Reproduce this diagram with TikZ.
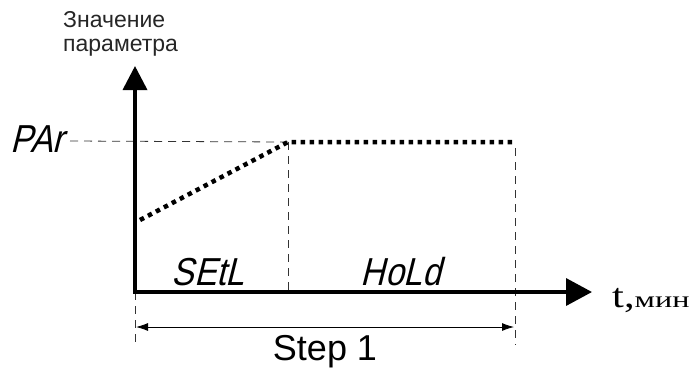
\documentclass[tikz,border=0pt]{standalone}
\usepackage{fontspec}
\setmainfont{Liberation Sans}
\newfontfamily\segfont[FakeSlant=0.25,FakeStretch=0.86]{Liberation Sans}
\newfontfamily\serfont[FakeStretch=1.25]{Liberation Serif}
\newfontfamily\serwide[FakeStretch=1.4]{Liberation Serif}
\usetikzlibrary{arrows.meta}
\begin{document}
\begin{tikzpicture}[x=1pt,y=-1pt,
  axis/.style={line width=3.6pt},
  guide/.style={line width=0.8pt, dash pattern=on 8pt off 6pt, black!80},
  curve/.style={line width=4.5pt, dash pattern=on 4.5pt off 4.5pt},
  seg/.style={font=\segfont\fontsize{39}{39}\selectfont, inner sep=0pt, anchor=base},
  lbl/.style={font=\fontsize{23}{26}\selectfont, inner sep=0pt, anchor=base west, text=black!85},
  dim/.style={line width=0.8pt, {Latex[length=12pt,width=8pt]}-{Latex[length=12pt,width=8pt]}}
]
\useasboundingbox (0,0) rectangle (692,373);
% coordinates
\coordinate (O) at (135,292);
\coordinate (ytop) at (135,66);
\coordinate (xend) at (592,292);
\coordinate (par0) at (70,141);
\coordinate (start) at (140,220);
\coordinate (corner) at (288,142);
\coordinate (hend) at (515,142);
\coordinate (s1) at (288,292);
\coordinate (e1) at (515,148);
\coordinate (e2) at (515,345);
\coordinate (b0) at (135,345);
\coordinate (dl) at (136,327);
\coordinate (dr) at (514,327);
% guides
\draw[guide] (par0) -- (corner);
\draw[guide] (corner) -- (s1);
\draw[guide] (e1) -- (e2);
\draw[guide] (O) -- (b0);
% axes
\draw[axis, -{Triangle[length=24pt,width=24pt]}] (O) -- (ytop);
\draw[axis, -{Triangle[length=26pt,width=27pt]}] ([xshift=-1.8pt]O) -- (xend);
% curve
\draw[curve] (start) -- (corner) -- (hend);
% dimension
\draw[dim] (dl) -- (dr);
% labels
\node[lbl] (ylab1) at (63,27) {Значение};
\node[lbl] (ylab2) at (63,51) {параметра};
\node[seg] (par) at (37,152) {PAr};
\node[seg] (setl) at (208,285) {SEtL};
\node[seg] (hold) at (401,285) {HoLd};
\node[font=\fontsize{36}{36}\selectfont, inner sep=0pt, anchor=base] (step) at (325,360) {Step 1};
\node[inner sep=0pt, anchor=base west] (tlab) at (612,307) {\serfont\fontsize{34}{34}\selectfont t,\serwide\fontsize{23}{23}\selectfont мин};
\end{tikzpicture}
\end{document}
